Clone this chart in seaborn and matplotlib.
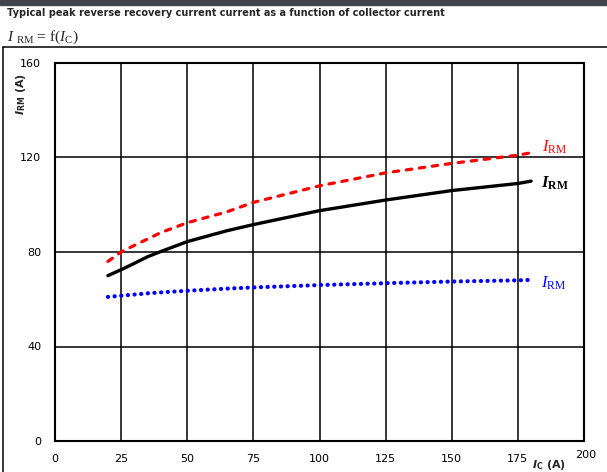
import matplotlib
matplotlib.use("Agg")
import matplotlib.pyplot as plt
import matplotlib.transforms as mtransforms
import seaborn as sns
import pandas as pd
from matplotlib.patches import Rectangle
from matplotlib.lines import Line2D

# ---- data ----
ic = [20, 25, 30, 35, 40, 50, 65, 75, 100, 125, 150, 175, 180]
irm_red = [76, 80, 82.8, 85.5, 88.2, 92.4, 97, 101, 108, 113.5, 117.5, 121, 122]
irm_black = [70, 72.5, 75.2, 78, 80.2, 84.4, 89, 91.6, 97.5, 102, 106, 109, 110]
irm_blue = [61, 61.5, 62, 62.5, 62.9, 63.6, 64.5, 65, 66, 66.8, 67.5, 68, 68.2]

x_ticks = [0, 25, 50, 75, 100, 125, 150, 175, 200]
y_ticks = [0, 40, 80, 120, 160]

title = "Typical peak reverse recovery current current as a function of collector current"

sns.set_style("white")
plt.rcParams["font.family"] = ["DejaVu Sans"]
plt.rcParams["mathtext.fontset"] = "custom"
plt.rcParams["mathtext.rm"] = "Liberation Serif"
plt.rcParams["mathtext.it"] = "Liberation Serif:italic"
plt.rcParams["mathtext.bf"] = "Liberation Serif:bold"
plt.rcParams["mathtext.bfit"] = "Liberation Serif:italic:bold"

W, H = 607, 472
fig = plt.figure(figsize=(W / 100, H / 100), dpi=100)
fig.patch.set_facecolor("white")

ax = fig.add_axes([55 / W, (H - 441) / H, (584 - 55) / W, (441 - 63) / H])

df = pd.DataFrame({"ic": ic, "red": irm_red, "black": irm_black, "blue": irm_blue})

sns.lineplot(data=df, x="ic", y="red", ax=ax, color="#ff0000", lw=2.3,
             linestyle=(0, (1.7, 2.4)), dash_capstyle="round", zorder=5)
sns.lineplot(data=df, x="ic", y="black", ax=ax, color="black", lw=2.4, zorder=5)
sns.lineplot(data=df, x="ic", y="blue", ax=ax, color="#0000ff", lw=3.0,
             linestyle=(0, (0.05, 1.55)), dash_capstyle="round", zorder=5)

ax.set_xlim(0, 200)
ax.set_ylim(0, 160)
ax.set_xticks(x_ticks)
ax.set_yticks(y_ticks)
ax.set_xticklabels([str(v) for v in x_ticks])
ax.set_yticklabels([str(v) for v in y_ticks])
ax.tick_params(axis="both", length=0, labelsize=8, colors="black")
ax.tick_params(axis="x", pad=9)
ax.tick_params(axis="y", pad=10)
ax.set_xlabel("")
ax.set_ylabel("")
ax.grid(True, color="black", lw=1.1)
ax.set_axisbelow(True)
for s in ax.spines.values():
    s.set_visible(True)
    s.set_color("black")
    s.set_linewidth(1.5)

# last x tick label sits a little higher in the reference
last = ax.get_xticklabels()[-1]
last.set_transform(last.get_transform() +
                   mtransforms.ScaledTranslation(2 / 100, 3 / 100, fig.dpi_scale_trans))

# line labels
ax.text(184.3, 124.3, r"$I_{\mathrm{RM}}$", color="#ff0000", fontsize=12, va="center", ha="left")
ax.text(183.8, 109.0, r"$\mathbfit{I}_{\mathbf{RM}}$", color="black", fontsize=12, va="center", ha="left")
ax.text(183.8, 67.0, r"$I_{\mathrm{RM}}$", color="#0000ff", fontsize=12, va="center", ha="left")

# axis labels
fig.text(21 / W, 1 - 94 / H, r"$\mathbfit{I}_{\mathbf{RM}}$ (A)", rotation=90, fontsize=8,
         fontweight="bold", ha="center", va="center", math_fontfamily="dejavusans")
fig.text(549 / W, 1 - 465 / H, r"$\mathbfit{I}_{\mathbf{C}}$ (A)", fontsize=8,
         fontweight="bold", ha="center", va="center", math_fontfamily="dejavusans")

# header
fig.patches.append(Rectangle((0, 1 - 4.5 / H), 1, 4.5 / H, transform=fig.transFigure,
                             color="#3f444a", zorder=0))
fig.text(7 / W, 1 - 13 / H, title, fontsize=7, fontweight="bold", ha="left", va="center")
fig.text(7 / W, 1 - 37 / H, r"$I$ $_{\mathrm{RM}}$ = f($I$$_{\mathrm{C}}$)", fontsize=11,
         family="Liberation Serif", ha="left", va="center")

# outer frame
fig.add_artist(Line2D([3 / W, 1], [1 - 47 / H, 1 - 47 / H], transform=fig.transFigure,
                      color="black", lw=1.1))
fig.add_artist(Line2D([3 / W, 3 / W], [0, 1 - 47 / H], transform=fig.transFigure,
                      color="black", lw=1.1))

fig.savefig("out.png", dpi=100)
